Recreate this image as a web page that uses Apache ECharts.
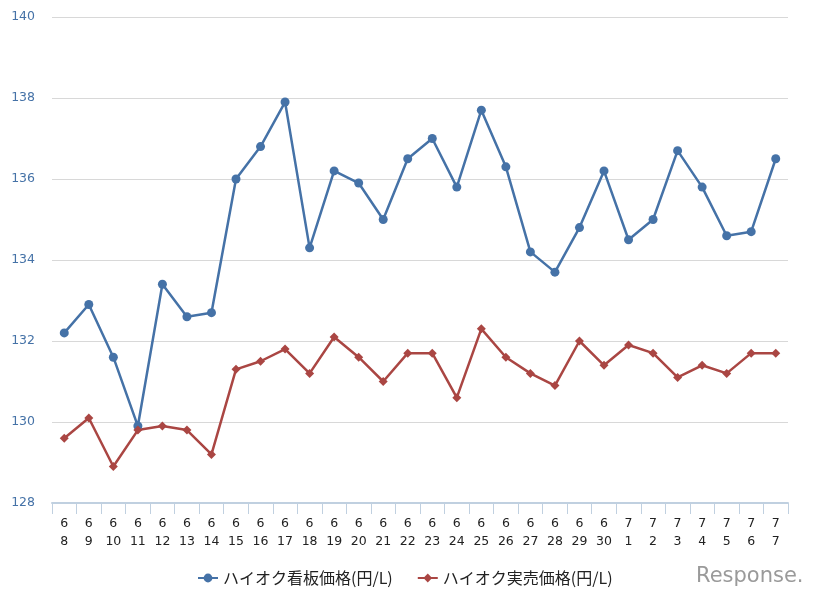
<!DOCTYPE html>
<html>
<head>
<meta charset="utf-8">
<script src="https://cdn.jsdelivr.net/npm/echarts@6/dist/echarts.min.js"></script>
<style>
html,body{margin:0;padding:0;background:#fff;}
#chart{width:822px;height:602px;}
</style>
</head>
<body>
<div id="chart"></div>
<script>
const categories = ["6\n8","6\n9","6\n10","6\n11","6\n12","6\n13","6\n14","6\n15","6\n16","6\n17","6\n18","6\n19","6\n20","6\n21","6\n22","6\n23","6\n24","6\n25","6\n26","6\n27","6\n28","6\n29","6\n30","7\n1","7\n2","7\n3","7\n4","7\n5","7\n6","7\n7"];
const signPrice = [132.2,132.9,131.6,129.9,133.4,132.6,132.7,136.0,136.8,137.9,134.3,136.2,135.9,135.0,136.5,137.0,135.8,137.7,136.3,134.2,133.7,134.8,136.2,134.5,135.0,136.7,135.8,134.6,134.7,136.5];
const actualPrice = [129.6,130.1,128.9,129.8,129.9,129.8,129.2,131.3,131.5,131.8,131.2,132.1,131.6,131.0,131.7,131.7,130.6,132.3,131.6,131.2,130.9,132.0,131.4,131.9,131.7,131.1,131.4,131.2,131.7,131.7];
const seriesNames = ["ハイオク看板価格(円/L)","ハイオク実売価格(円/L)"];

const chart = echarts.init(document.getElementById('chart'), null, {renderer:'canvas'});
chart.setOption({
  animation: false,
  backgroundColor: '#ffffff',
  grid: {left: 52, right: 34, top: 17, bottom: 99, containLabel: false},
  xAxis: {
    type: 'category',
    data: categories,
    boundaryGap: true,
    axisLine: {lineStyle: {color: '#C0D0E0', width: 2}},
    axisTick: {show: true, length: 11, lineStyle: {color: '#C0D0E0'}},
    axisLabel: {color: '#222', fontSize: 12.5, lineHeight: 18, margin: 12, interval: 0, fontFamily: 'DejaVu Sans'}
  },
  yAxis: {
    type: 'value',
    min: 128, max: 140, interval: 2,
    axisLine: {show: false},
    axisTick: {show: false},
    splitLine: {lineStyle: {color: '#D8D8D8', width: 1}},
    axisLabel: {color: '#4572A7', fontSize: 12.5, margin: 17, fontFamily: 'DejaVu Sans'}
  },
  legend: {
    top: 565,
    left: 192,
    itemWidth: 20,
    itemHeight: 11,
    itemGap: 24,
    textStyle: {color: '#222', fontSize: 16, fontFamily: 'Noto Sans CJK JP'},
    data: seriesNames
  },
  graphic: [{
    type: 'text',
    left: 696, top: 566,
    style: {text: 'Response.', fill: '#9a9a9a', font: '21px "DejaVu Sans"'}
  }],
  series: [
    {
      name: seriesNames[0], type: 'line', data: signPrice,
      symbol: 'circle', symbolSize: 9,
      lineStyle: {color: '#4572A7', width: 2.5},
      itemStyle: {color: '#4572A7'}
    },
    {
      name: seriesNames[1], type: 'line', data: actualPrice,
      symbol: 'diamond', symbolSize: 9,
      lineStyle: {color: '#AA4643', width: 2.5},
      itemStyle: {color: '#AA4643'}
    }
  ]
});
</script>
</body>
</html>
